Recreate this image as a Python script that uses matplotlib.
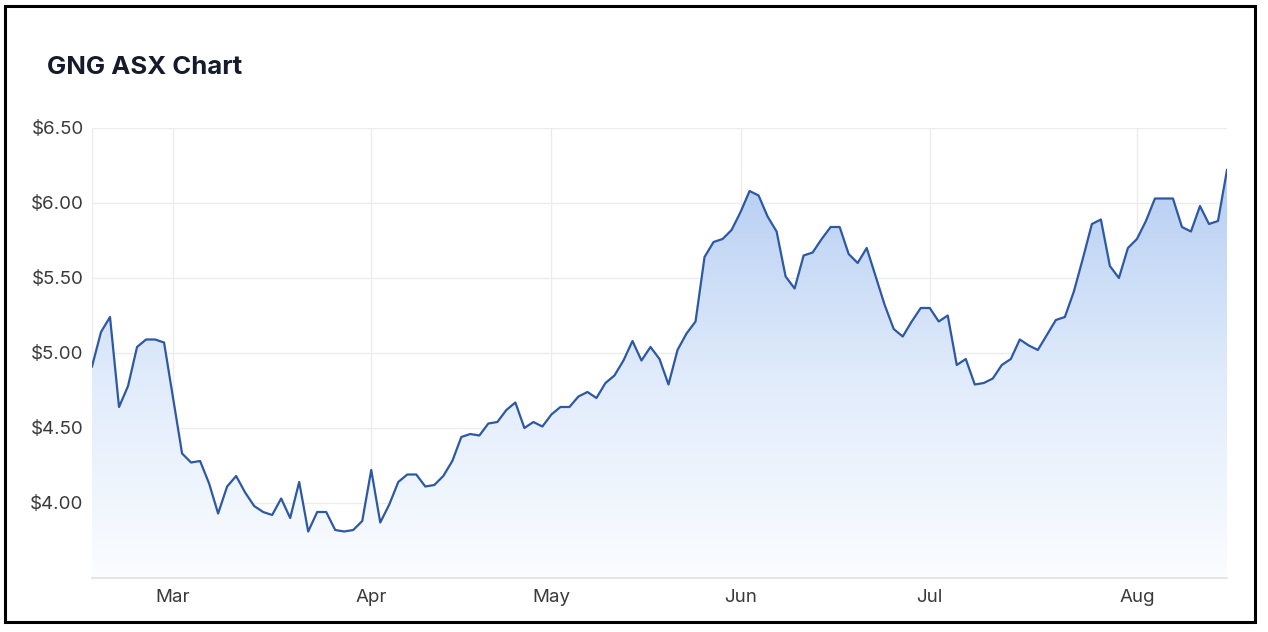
import numpy as np
import matplotlib.pyplot as plt
from matplotlib.colors import LinearSegmentedColormap
from matplotlib.patches import Rectangle

# closing prices, one per trading day (ordinal x axis)
prices = [
    4.91, 5.14, 5.24, 4.64, 4.78, 5.04, 5.09, 5.09, 5.07, 4.70,
    4.33, 4.27, 4.28, 4.13, 3.93, 4.11, 4.18, 4.07, 3.98, 3.94,
    3.92, 4.03, 3.90, 4.14, 3.81, 3.94, 3.94, 3.82, 3.81, 3.82,
    3.88, 4.22, 3.87, 3.99, 4.14, 4.19, 4.19, 4.11, 4.12, 4.18,
    4.28, 4.44, 4.46, 4.45, 4.53, 4.54, 4.62, 4.67, 4.50, 4.54,
    4.51, 4.59, 4.64, 4.64, 4.71, 4.74, 4.70, 4.80, 4.85, 4.95,
    5.08, 4.95, 5.04, 4.96, 4.79, 5.02, 5.13, 5.21, 5.64, 5.74,
    5.76, 5.82, 5.94, 6.08, 6.05, 5.91, 5.81, 5.51, 5.43, 5.65,
    5.67, 5.76, 5.84, 5.84, 5.66, 5.60, 5.70, 5.51, 5.32, 5.16,
    5.11, 5.21, 5.30, 5.30, 5.21, 5.25, 4.92, 4.96, 4.79, 4.80,
    4.83, 4.92, 4.96, 5.09, 5.05, 5.02, 5.12, 5.22, 5.24, 5.41,
    5.63, 5.86, 5.89, 5.58, 5.50, 5.70, 5.76, 5.88, 6.03, 6.03,
    6.03, 5.84, 5.81, 5.98, 5.86, 5.88, 6.22,
]
# first trading day of each month (index into prices)
month_labels = ['Mar', 'Apr', 'May', 'Jun', 'Jul', 'Aug']
month_idx = [9, 31, 51, 72, 93, 116]
y_ticks = [4.0, 4.5, 5.0, 5.5, 6.0, 6.5]

W, H = 1268, 632
fig = plt.figure(figsize=(W / 100, H / 100), dpi=100)
fig.patch.set_facecolor('white')

# plot area in pixels: x 92..1227, y 128..578
ax = fig.add_axes([92 / W, (H - 578) / H, (1227 - 92) / W, (578 - 128) / H])
x = np.arange(len(prices))
y = np.array(prices)
ymin, ymax = 3.5, 6.5

ax.set_xlim(0, len(prices) - 1)
ax.set_ylim(ymin, ymax)

# gridlines
for v in y_ticks:
    ax.axhline(v, color='#ececec', lw=1, zorder=0)
for m in month_idx:
    ax.axvline(m, color='#ececec', lw=1, zorder=0)
ax.axvline(0, color='#ececec', lw=1, zorder=0)

# gradient area fill
fill = ax.fill_between(x, y, ymin, color='none', lw=0)
cmap = LinearSegmentedColormap.from_list('g', ['#fbfdff', '#e0ebfb', '#b6cef2'])
grad = np.linspace(0, 1, 256).reshape(-1, 1)
im = ax.imshow(grad, cmap=cmap, origin='lower', aspect='auto',
               extent=[0, len(prices) - 1, ymin, y.max()], zorder=1)
path = fill.get_paths()[0]
im.set_clip_path(path, transform=ax.transData)

ax.plot(x, y, color='#2d58a3', lw=1.6, zorder=3)

for s in ['top', 'right', 'left']:
    ax.spines[s].set_visible(False)
ax.spines['bottom'].set_color('#e0e0e0')
ax.spines['bottom'].set_linewidth(1.2)
ax.spines['bottom'].set_zorder(4)

ax.set_yticks(y_ticks)
ax.set_yticklabels(['$%.2f' % v for v in y_ticks])
ax.set_xticks(month_idx)
ax.set_xticklabels(month_labels)
ax.tick_params(axis='both', length=0, labelsize=13.5, labelcolor='#3a3a3a')
ax.tick_params(axis='y', pad=6)
ax.tick_params(axis='x', pad=8)
for lab in ax.get_xticklabels() + ax.get_yticklabels():
    lab.set_fontfamily('Inter')

fig.text(47 / W, 1 - 67 / H, 'GNG ASX Chart', fontsize=18.5, fontweight='bold',
         color='#151b2b', va='center', ha='left', family='Inter')

# outer frame
fig.patches.append(Rectangle((5 / W, (H - 622) / H), 1250 / W, 616 / H,
                             transform=fig.transFigure, fill=False,
                             edgecolor='black', lw=2.2))

fig.savefig('out.png', dpi=100)
